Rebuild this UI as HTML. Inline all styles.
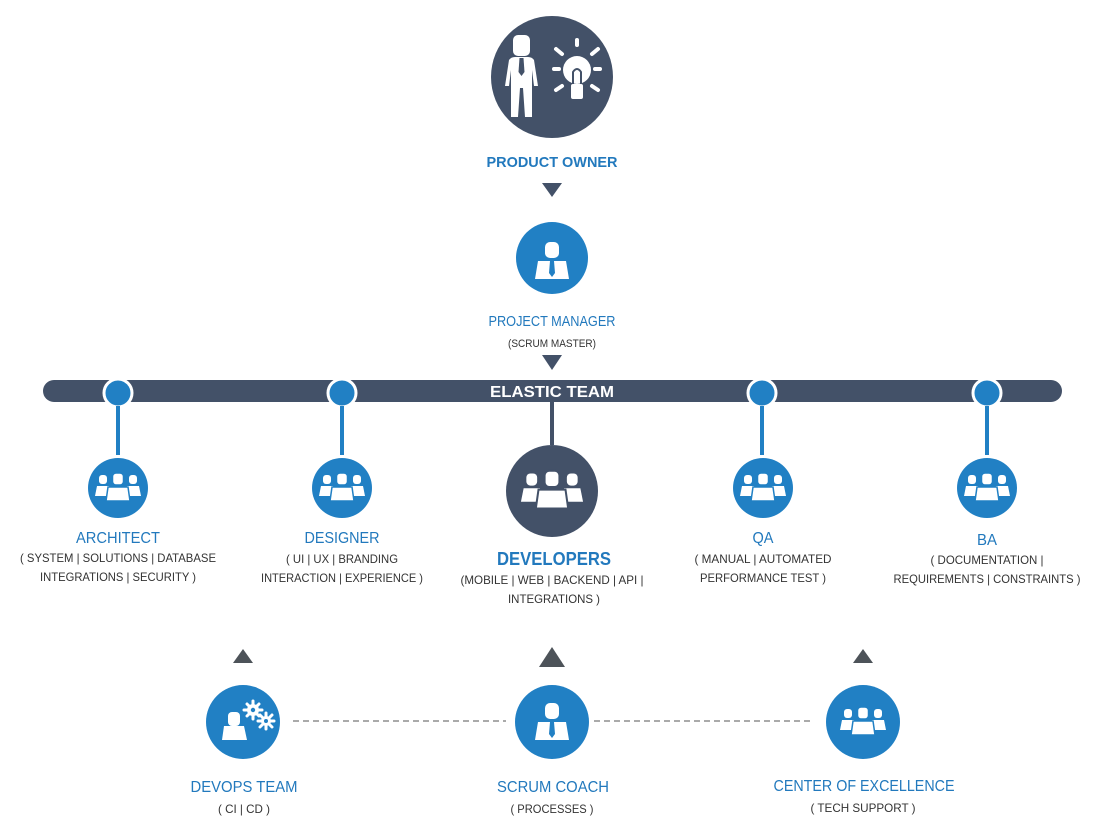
<!DOCTYPE html>
<html><head><meta charset="utf-8"><style>html,body{margin:0;padding:0;background:#fff}svg{display:block}</style></head>
<body>
<svg width="1100" height="830" viewBox="0 0 1100 830" xmlns="http://www.w3.org/2000/svg" font-family="Liberation Sans, Arial, sans-serif">
<defs>
<g id="team" fill="#fff">
  <rect x="-19" y="-13" width="8" height="9" rx="3"/>
  <path d="M-23,8 L-21,-2 L-9,-2 L-7,8 Z"/>
  <rect x="11" y="-13" width="8" height="9" rx="3"/>
  <path d="M23,8 L21,-2 L9,-2 L7,8 Z"/>
  <rect x="-5.5" y="-15" width="11" height="12" rx="3.5" stroke="#2180c4" stroke-width="1.5"/>
  <path d="M-12,13 L-10,-1 L10,-1 L12,13 Z" stroke="#2180c4" stroke-width="1.5"/>
</g>
<g id="boss" fill="#fff">
  <rect x="-7" y="-20" width="14" height="16" rx="5"/>
  <path d="M-17,17 L-14,-1 L14,-1 L17,17 Z"/>
  <path d="M-2,-1 L2,-1 L3,11 L0,15 L-3,11 Z" fill="#2180c4"/>
</g>
</defs>

<!-- Product owner -->
<circle cx="552" cy="77" r="61" fill="#435168"/>
<g fill="#fff">
  <rect x="513" y="35" width="17" height="21" rx="5"/>
  <path d="M505,86 L509,60 Q511,57 515,57 L528,57 Q532,57 534,60 L538,86 L534,86 L532,70 L532,117 L525,117 L523,88 L520,88 L518,117 L511,117 L511,70 L509,86 Z"/>
  <path d="M519.5,58 L523.5,58 L524.5,72 L521.5,76 L518.5,72 Z" fill="#435168"/>
  <circle cx="577" cy="70" r="14"/>
  <rect x="571" y="84" width="12" height="15" rx="2"/>
  <rect x="575" y="38" width="4" height="9" rx="2"/>
  <rect x="552" y="67" width="9" height="4" rx="2"/><rect x="593" y="67" width="9" height="4" rx="2"/>
  <path d="M556,49 L562,54" stroke="#fff" stroke-width="4" stroke-linecap="round"/>
  <path d="M598,49 L592,54" stroke="#fff" stroke-width="4" stroke-linecap="round"/>
  <path d="M556,90 L562,86" stroke="#fff" stroke-width="4" stroke-linecap="round"/>
  <path d="M598,90 L592,86" stroke="#fff" stroke-width="4" stroke-linecap="round"/>
  <path d="M573,84 L573,72 Q577,66 581,72 L581,84" fill="none" stroke="#435168" stroke-width="2"/>
</g>
<text x="552" y="167" text-anchor="middle" font-size="15" font-weight="bold" fill="#2279bd" textLength="131" lengthAdjust="spacingAndGlyphs">PRODUCT OWNER</text>
<polygon points="542,183 562,183 552,197" fill="#435168"/>

<!-- Project manager -->
<circle cx="552" cy="258" r="36" fill="#2180c4"/>
<use href="#boss" x="552" y="262"/>
<text x="552" y="326" text-anchor="middle" font-size="15" fill="#2279bd" textLength="127" lengthAdjust="spacingAndGlyphs">PROJECT MANAGER</text>
<text x="552" y="347" text-anchor="middle" font-size="11" fill="#333" textLength="88" lengthAdjust="spacingAndGlyphs">(SCRUM MASTER)</text>
<polygon points="542,355 562,355 552,370" fill="#435168"/>

<!-- Bar -->
<rect x="43" y="380" width="1019" height="22" rx="11" fill="#435168"/>
<text x="552" y="397" text-anchor="middle" font-size="16" font-weight="bold" fill="#fff" textLength="124" lengthAdjust="spacingAndGlyphs">ELASTIC TEAM</text>
<g fill="#2180c4" stroke="#fff" stroke-width="3">
  <circle cx="118" cy="393" r="14"/><circle cx="342" cy="393" r="14"/><circle cx="762" cy="393" r="14"/><circle cx="987" cy="393" r="14"/>
</g>
<g stroke="#2180c4" stroke-width="4">
  <line x1="118" y1="406" x2="118" y2="455"/><line x1="342" y1="406" x2="342" y2="455"/>
  <line x1="762" y1="406" x2="762" y2="455"/><line x1="987" y1="406" x2="987" y2="455"/>
</g>
<line x1="552" y1="402" x2="552" y2="445" stroke="#435168" stroke-width="4"/>

<!-- middle row -->
<circle cx="118" cy="488" r="30" fill="#2180c4"/><use href="#team" x="118" y="488"/>
<circle cx="342" cy="488" r="30" fill="#2180c4"/><use href="#team" x="342" y="488"/>
<circle cx="763" cy="488" r="30" fill="#2180c4"/><use href="#team" x="763" y="488"/>
<circle cx="987" cy="488" r="30" fill="#2180c4"/><use href="#team" x="987" y="488"/>
<circle cx="552" cy="491" r="46" fill="#435168"/>
<g transform="translate(552,491) scale(1.35)"><g fill="#fff">
  <rect x="-19" y="-13" width="8" height="9" rx="3"/><path d="M-23,8 L-21,-2 L-9,-2 L-7,8 Z"/>
  <rect x="11" y="-13" width="8" height="9" rx="3"/><path d="M23,8 L21,-2 L9,-2 L7,8 Z"/>
  <rect x="-5.5" y="-15" width="11" height="12" rx="3.5" stroke="#435168" stroke-width="1.5"/>
  <path d="M-12,13 L-10,-1 L10,-1 L12,13 Z" stroke="#435168" stroke-width="1.5"/>
</g></g>

<g font-size="16" fill="#2279bd" text-anchor="middle">
<text x="118" y="543" textLength="84" lengthAdjust="spacingAndGlyphs">ARCHITECT</text>
<text x="342" y="543" textLength="75" lengthAdjust="spacingAndGlyphs">DESIGNER</text>
<text x="763" y="543" textLength="21" lengthAdjust="spacingAndGlyphs">QA</text>
<text x="987" y="545" textLength="20" lengthAdjust="spacingAndGlyphs">BA</text>
<text x="554" y="565" font-size="18" font-weight="bold" textLength="114" lengthAdjust="spacingAndGlyphs">DEVELOPERS</text>
</g>
<g font-size="12" fill="#333" text-anchor="middle">
<text x="118" y="562" textLength="196" lengthAdjust="spacingAndGlyphs">( SYSTEM | SOLUTIONS | DATABASE</text>
<text x="118" y="581" textLength="156" lengthAdjust="spacingAndGlyphs">INTEGRATIONS | SECURITY )</text>
<text x="342" y="563" textLength="112" lengthAdjust="spacingAndGlyphs">( UI | UX | BRANDING</text>
<text x="342" y="582" textLength="162" lengthAdjust="spacingAndGlyphs">INTERACTION | EXPERIENCE )</text>
<text x="552" y="584" textLength="183" lengthAdjust="spacingAndGlyphs">(MOBILE | WEB |  BACKEND | API |</text>
<text x="554" y="603" textLength="92" lengthAdjust="spacingAndGlyphs">INTEGRATIONS )</text>
<text x="763" y="563" textLength="137" lengthAdjust="spacingAndGlyphs">( MANUAL | AUTOMATED</text>
<text x="763" y="582" textLength="126" lengthAdjust="spacingAndGlyphs">PERFORMANCE TEST )</text>
<text x="987" y="564" textLength="113" lengthAdjust="spacingAndGlyphs">( DOCUMENTATION |</text>
<text x="987" y="583" textLength="187" lengthAdjust="spacingAndGlyphs">REQUIREMENTS | CONSTRAINTS )</text>
</g>

<!-- bottom row -->
<polygon points="233,663 253,663 243,649" fill="#4d5359"/>
<polygon points="539,667 565,667 552,647" fill="#4d5359"/>
<polygon points="853,663 873,663 863,649" fill="#4d5359"/>
<g stroke="#777" stroke-width="1.2" stroke-dasharray="6,4">
<line x1="293" y1="721" x2="506" y2="721"/><line x1="594" y1="721" x2="810" y2="721"/>
</g>
<circle cx="243" cy="722" r="37" fill="#2180c4"/>
<g fill="#fff">
  <rect x="228" y="712" width="12" height="14" rx="4"/>
  <path d="M222,740 L224,726 L244,726 L247,740 Z"/>
  <circle cx="253" cy="710" r="6"/><circle cx="266" cy="721" r="5"/>
</g>
<g stroke="#fff" stroke-width="3" stroke-linecap="round">
  <path d="M253,701 V719 M244,710 H262 M247,704 L259,716 M259,704 L247,716"/>
  <path d="M266,713 V729 M258,721 H274 M260,715 L272,727 M272,715 L260,727"/>
</g>
<circle cx="253" cy="710" r="2.2" fill="#2180c4"/><circle cx="266" cy="721" r="2" fill="#2180c4"/>

<circle cx="552" cy="722" r="37" fill="#2180c4"/><use href="#boss" x="552" y="723"/>
<circle cx="863" cy="722" r="37" fill="#2180c4"/><use href="#team" x="863" y="722"/>

<g font-size="16" fill="#2279bd" text-anchor="middle">
<text x="244" y="792" textLength="107" lengthAdjust="spacingAndGlyphs">DEVOPS TEAM</text>
<text x="553" y="792" textLength="112" lengthAdjust="spacingAndGlyphs">SCRUM COACH</text>
<text x="864" y="791" textLength="181" lengthAdjust="spacingAndGlyphs">CENTER OF EXCELLENCE</text>
</g>
<g font-size="12" fill="#333" text-anchor="middle">
<text x="244" y="813" textLength="52" lengthAdjust="spacingAndGlyphs">( CI | CD )</text>
<text x="552" y="813" textLength="83" lengthAdjust="spacingAndGlyphs">( PROCESSES )</text>
<text x="863" y="812" textLength="105" lengthAdjust="spacingAndGlyphs">( TECH SUPPORT )</text>
</g>
</svg>
</body></html>
